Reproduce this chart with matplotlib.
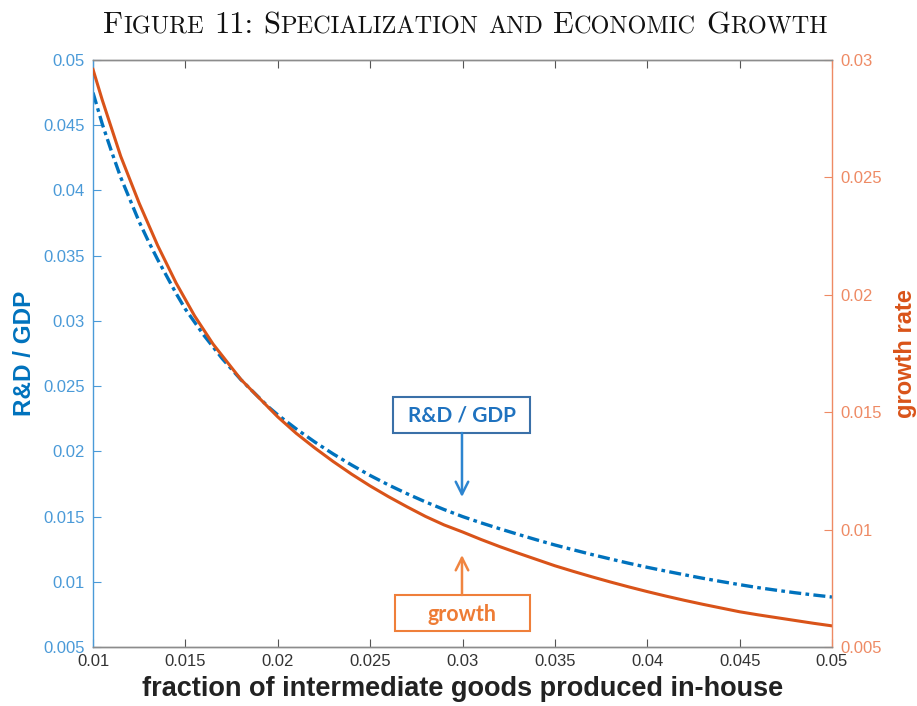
import matplotlib
matplotlib.use('Agg')
import matplotlib.pyplot as plt
from matplotlib.patches import Rectangle

# share of intermediate goods produced in-house
frac = [0.0100, 0.0105, 0.0110, 0.0115, 0.0120, 0.0125, 0.0130, 0.0135, 0.0140, 0.0145,
        0.0150, 0.0155, 0.0160, 0.0165, 0.0170, 0.0175, 0.0180, 0.0185, 0.0190, 0.0195,
        0.020, 0.021, 0.022, 0.023, 0.024, 0.025, 0.026, 0.027, 0.028, 0.029,
        0.030, 0.031, 0.032, 0.033, 0.034, 0.035, 0.036, 0.037, 0.038, 0.039,
        0.040, 0.041, 0.042, 0.043, 0.044, 0.045, 0.046, 0.047, 0.048, 0.049, 0.050]
# R&D / GDP (left axis)
rd_gdp = [0.0475, 0.0451, 0.0430, 0.0410, 0.0393, 0.0376, 0.0361, 0.0347, 0.0334, 0.0321,
          0.0309, 0.0299, 0.0289, 0.0280, 0.0271, 0.0263, 0.0255, 0.0248, 0.0241, 0.0234,
          0.02280, 0.02172, 0.02072, 0.01980, 0.01895, 0.01815, 0.01742, 0.01675, 0.01612,
          0.01554, 0.01500, 0.01452, 0.01407, 0.01364, 0.01322, 0.01282, 0.01245, 0.01209,
          0.01175, 0.01142, 0.01111, 0.01082, 0.01054, 0.01027, 0.01002, 0.00978, 0.00955,
          0.00935, 0.00916, 0.00899, 0.00883]
# growth rate (right axis)
growth = [0.0296, 0.0283, 0.0271, 0.0259, 0.0249, 0.0239, 0.0230, 0.0221, 0.0213, 0.0205,
          0.0198, 0.0191, 0.0185, 0.0179, 0.0174, 0.0169, 0.0164, 0.0160, 0.0156, 0.0152,
          0.01480, 0.01410, 0.01348, 0.01290, 0.01236, 0.01186, 0.01140, 0.01097, 0.01056,
          0.01020, 0.00990, 0.00958, 0.00928, 0.00900, 0.00873, 0.00846, 0.00822, 0.00799,
          0.00777, 0.00756, 0.00736, 0.00717, 0.00699, 0.00682, 0.00666, 0.00650, 0.00637,
          0.00625, 0.00613, 0.00601, 0.00590]

x_ticks = [0.01, 0.015, 0.02, 0.025, 0.03, 0.035, 0.04, 0.045, 0.05]
x_labels = ['0.01', '0.015', '0.02', '0.025', '0.03', '0.035', '0.04', '0.045', '0.05']
left_ticks = [0.005, 0.01, 0.015, 0.02, 0.025, 0.03, 0.035, 0.04, 0.045, 0.05]
left_labels = ['0.005', '0.01', '0.015', '0.02', '0.025', '0.03', '0.035', '0.04', '0.045', '0.05']
right_ticks = [0.005, 0.01, 0.015, 0.02, 0.025, 0.03]
right_labels = ['0.005', '0.01', '0.015', '0.02', '0.025', '0.03']

BLUE = '#0072BD'
ORANGE = '#D95319'
BLUE_AX = '#4a9ad8'
ORANGE_AX = '#ee8a64'
GRAY = '#8c8c8c'
SANS = ['Liberation Sans', 'DejaVu Sans']

fig = plt.figure(figsize=(9.17, 7.06), dpi=100)
ax = fig.add_axes([93 / 917, 59 / 706, 739 / 917, 587 / 706])
ax2 = ax.twinx()

ax.plot(frac, rd_gdp, color=BLUE, lw=2.4, ls=(0, (3.6, 1.3, 1.1, 1.3)))
ax2.plot(frac, growth, color=ORANGE, lw=2.2)

ax.set_xlim(0.01, 0.05)
ax.set_ylim(0.005, 0.05)
ax2.set_ylim(0.005, 0.03)

ax.set_xticks(x_ticks)
ax.set_xticklabels(x_labels, family=SANS, fontsize=12, color='#333333')
ax.set_yticks(left_ticks)
ax.set_yticklabels(left_labels, family=SANS, fontsize=12, color=BLUE_AX)
ax2.set_yticks(right_ticks)
ax2.set_yticklabels(right_labels, family=SANS, fontsize=12, color=ORANGE_AX)

ax.tick_params(axis='x', direction='in', length=6, width=0.8, color='#555555',
               top=True, pad=5)
ax.tick_params(axis='y', direction='in', length=6, width=0.8, color=BLUE_AX, pad=6)
ax2.tick_params(axis='y', direction='in', length=6, width=0.8, color=ORANGE_AX, pad=6)

for a in (ax, ax2):
    for s in a.spines.values():
        s.set_linewidth(1.0)
    a.spines['top'].set_color(GRAY)
    a.spines['bottom'].set_color(GRAY)
ax.spines['left'].set_color(BLUE_AX)
ax.spines['right'].set_visible(False)
ax2.spines['left'].set_visible(False)
ax2.spines['right'].set_color(ORANGE_AX)

ax.set_xlabel('fraction of intermediate goods produced in-house', family=SANS,
              fontsize=19.5, fontweight='bold', color='#222222', labelpad=5)
ax.set_ylabel('R&D / GDP', family=SANS, fontsize=17.5, fontweight='bold',
              color=BLUE, labelpad=5)
ax2.set_ylabel('growth rate', family=SANS, fontsize=17, fontweight='bold',
               color=ORANGE, labelpad=9)

# callout boxes with arrows
ax2.add_patch(Rectangle((0.406, 0.3646), 0.185, 0.0614, transform=ax.transAxes,
                        facecolor='white', edgecolor='#3a70a8', lw=1.5, zorder=5))
ax2.text(0.4993, 0.395, 'R&D / GDP', transform=ax.transAxes, ha='center', va='center',
         family=['Lato', 'DejaVu Sans'], fontsize=15, fontweight='bold',
         color='#1f72bf', zorder=6)
ax2.annotate('', xy=(0.4993, 0.2555), xytext=(0.4993, 0.3646), xycoords=ax.transAxes,
             textcoords=ax.transAxes, zorder=6,
             arrowprops=dict(arrowstyle='->,head_length=0.9,head_width=0.45',
                             color='#2d85d0', lw=1.8, shrinkA=0, shrinkB=0))

ax2.add_patch(Rectangle((0.4087, 0.0273), 0.1826, 0.0613, transform=ax.transAxes,
                        facecolor='white', edgecolor='#ef7f3a', lw=1.5, zorder=5))
ax2.text(0.4993, 0.056, 'growth', transform=ax.transAxes, ha='center', va='center',
         family=['Lato', 'DejaVu Sans'], fontsize=15.5, fontweight='bold',
         color='#ee7c35', zorder=6)
ax2.annotate('', xy=(0.4993, 0.1567), xytext=(0.4993, 0.0886), xycoords=ax.transAxes,
             textcoords=ax.transAxes, zorder=6,
             arrowprops=dict(arrowstyle='->,head_length=0.9,head_width=0.45',
                             color='#f08540', lw=1.8, shrinkA=0, shrinkB=0))


# small-caps title built from pieces of cmr10
def small_caps_title(text, y, big=22, small=17.5, shift=7):
    renderer = fig.canvas.get_renderer()
    pieces = []
    for word in text.split(' '):
        run = []
        for ch in word:
            size = small if ch.islower() else big
            ch = ch.upper()
            if run and run[-1][1] == size:
                run[-1][0] += ch
            else:
                run.append([ch, size])
        pieces.append(run)

    def width(s, size):
        t = fig.text(0, 0, s, family='cmr10', fontsize=size)
        w = t.get_window_extent(renderer).width
        t.remove()
        return w

    space = width('I I', big) - width('II', big)
    total = 0
    for i, run in enumerate(pieces):
        for s, size in run:
            total += width(s, size)
        if i < len(pieces) - 1:
            total += space
    x = (fig.bbox.width - total) / 2 + shift
    for i, run in enumerate(pieces):
        for s, size in run:
            fig.text(x / fig.bbox.width, y, s, family='cmr10', fontsize=size,
                     va='baseline', color='#111111')
            x += width(s, size)
        x += space


small_caps_title('Figure 11: Specialization and Economic Growth', 1 - 33 / 706)

fig.savefig('out.png', dpi=100, facecolor='white')
